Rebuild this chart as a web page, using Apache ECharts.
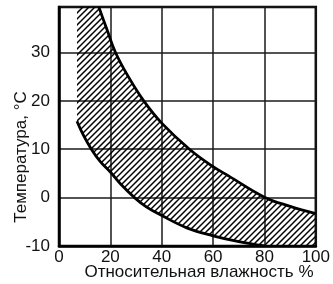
<!DOCTYPE html>
<html>
<head>
<meta charset="utf-8">
<script src="https://cdn.jsdelivr.net/npm/echarts@6/dist/echarts.min.js"></script>
<style>
html,body{margin:0;padding:0;background:#fff;}
#chart{width:333px;height:284px;}
</style>
</head>
<body>
<div id="chart"></div>
<script>
// Data
var xTicks = [0, 20, 40, 60, 80, 100];
var yTicks = [-10, 0, 10, 20, 30];
var xTitle = 'Относительная влажность %';
var yTitle = 'Температура, °C';

// upper boundary curve (humidity %, temperature °C)
var upperX = [15.5, 18.5, 22, 27, 33, 40, 50.8, 60, 66, 80, 90, 100];
var upperY = [39.4, 35.0, 30, 25, 20, 15.4, 10, 6.4, 4.5, 0.1, -1.8, -3.3];
// lower boundary curve
var lowerX = [7, 9.5, 12.6, 16, 20, 24, 29.4, 34, 40, 50, 60, 70, 80];
var lowerY = [15.8, 12.9, 10, 7.5, 5.3, 2.8, 0, -1.9, -3.7, -6.3, -7.9, -9.1, -10];
// hatched region corners
var hatchLeftX = 7;
var yMax = 39.4;
var xMax = 100;
var yMin = -10;

function zip(a, b) { return a.map(function (v, i) { return [v, b[i]]; }); }

// hatch pattern
var tile = document.createElement('canvas');
tile.width = 12; tile.height = 12;
var ctx = tile.getContext('2d');
ctx.strokeStyle = '#000';
ctx.lineWidth = 1.5;
[0, 6, 12, 18, 24].forEach(function (c) {
  ctx.beginPath();
  ctx.moveTo(c + 2, -2);
  ctx.lineTo(-2, c + 2);
  ctx.stroke();
});

var chart = echarts.init(document.getElementById('chart'), null, {renderer: 'canvas'});
var font = 'Liberation Sans';
chart.setOption({
  animation: false,
  backgroundColor: '#fff',
  grid: {left: 59, right: 16, top: 7, bottom: 38, show: true, borderColor: '#000', borderWidth: 2.5, backgroundColor: 'transparent'},
  xAxis: {
    type: 'value', min: 0, max: 100, interval: 20,
    axisLine: {show: true, onZero: false, lineStyle: {color: '#000', width: 2.5}},
    axisTick: {show: false},
    splitLine: {show: true, lineStyle: {color: '#1a1a1a', width: 1.5}},
    axisLabel: {
      color: '#111', fontSize: 17, fontFamily: font, margin: 3,
      formatter: function (v) { return xTicks.indexOf(v) >= 0 ? String(v) : ''; }
    }
  },
  yAxis: {
    type: 'value', min: yMin, max: yMax, interval: 10,
    axisLine: {show: true, onZero: false, lineStyle: {color: '#000', width: 2.5}},
    axisTick: {show: false},
    splitLine: {show: true, lineStyle: {color: '#1a1a1a', width: 1.5}},
    axisLabel: {
      color: '#111', fontSize: 17, fontFamily: font, margin: 9,
      formatter: function (v) { return yTicks.indexOf(v) >= 0 ? String(v) : ''; }
    }
  },
  graphic: [
    {type: 'text', x: 199, y: 272, z: 100,
     style: {text: xTitle, fill: '#111', font: '17px ' + font, align: 'center', verticalAlign: 'middle', textAlign: 'center', textVerticalAlign: 'middle'}},
    {type: 'text', x: 21, y: 157, rotation: Math.PI / 2, z: 100,
     style: {text: yTitle, fill: '#111', font: '17px ' + font, align: 'center', verticalAlign: 'middle', textAlign: 'center', textVerticalAlign: 'middle'}}
  ],
  series: [
    {
      type: 'custom',
      z: 1,
      data: [[0, 0]],
      clip: true,
      renderItem: function (params, api) {
        var pts = [];
        pts.push(api.coord([hatchLeftX, yMax]));
        for (var i = 0; i < upperX.length; i++) pts.push(api.coord([upperX[i], upperY[i]]));
        pts.push(api.coord([xMax, yMin]));
        for (var j = lowerX.length - 1; j >= 0; j--) pts.push(api.coord([lowerX[j], lowerY[j]]));
        return {type: 'polygon', shape: {points: pts}, style: {fill: {image: tile, repeat: 'repeat'}, stroke: null}};
      }
    },
    {
      type: 'line', z: 5, data: zip(upperX, upperY), smooth: 0.4, symbol: 'none',
      lineStyle: {color: '#000', width: 2.8}
    },
    {
      type: 'line', z: 5, data: zip(lowerX, lowerY), smooth: 0.4, symbol: 'none',
      lineStyle: {color: '#000', width: 2.8}
    }
  ]
});
</script>
</body>
</html>
